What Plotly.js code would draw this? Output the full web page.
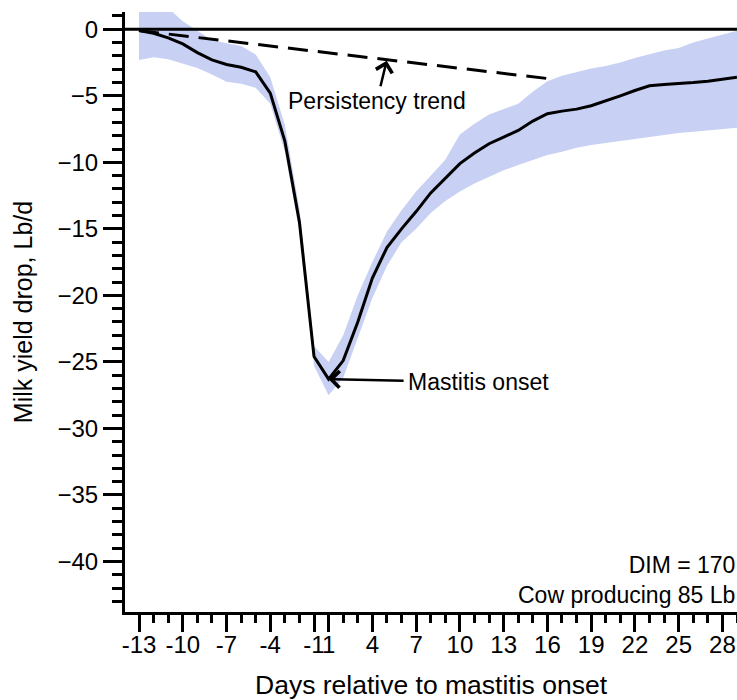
<!DOCTYPE html>
<html><head><meta charset="utf-8">
<script src="https://cdn.plot.ly/plotly-3.0.1.min.js"></script>
<style>html,body{margin:0;padding:0;background:#fff}#chart{width:737px;height:700px}</style>
</head><body><div id="chart"></div>
<script>
const days = [-13,-12,-11,-10,-9,-8,-7,-6,-5,-4,-3,-2,-1,1,2,3,4,5,6,7,8,9,10,11,12,13,14,15,16,17,18,19,20,21,22,23,24,25,26,27,28,29];
const meanDrop = [-0.1,-0.3,-0.65,-1.1,-1.75,-2.3,-2.65,-2.85,-3.2,-4.8,-8.4,-14.5,-24.6,-26.3,-24.9,-22.0,-18.7,-16.4,-15.0,-13.7,-12.3,-11.2,-10.1,-9.3,-8.6,-8.1,-7.6,-6.9,-6.35,-6.15,-6.0,-5.75,-5.4,-5.0,-4.6,-4.25,-4.15,-4.1,-4.0,-3.9,-3.75,-3.6];
const upperBand = [2.0,2.0,1.6,0.6,-0.1,-0.8,-1.05,-1.25,-1.9,-3.6,-7.2,-13.5,-23.8,-25.0,-23.0,-20.0,-17.5,-15.2,-13.6,-12.2,-11.0,-9.8,-7.9,-7.1,-6.4,-6.0,-5.6,-4.7,-3.9,-3.5,-3.2,-2.95,-2.75,-2.5,-2.15,-1.85,-1.6,-1.4,-1.0,-0.7,-0.4,-0.1];
const lowerBand = [-2.3,-2.1,-2.25,-2.55,-2.9,-3.4,-3.95,-4.1,-4.4,-5.6,-9.2,-15.2,-25.3,-27.5,-26.2,-23.2,-20.2,-17.8,-16.0,-15.0,-13.8,-12.9,-12.2,-11.6,-11.1,-10.6,-10.2,-9.8,-9.45,-9.2,-8.9,-8.7,-8.55,-8.35,-8.2,-8.1,-7.95,-7.8,-7.7,-7.6,-7.5,-7.4];
const trendDays = [-13, 16];
const trendValues = [-0.1, -3.7];
const tickDays = [-13,-10,-7,-4,-1,1,4,7,10,13,16,19,22,25,28];
const tickLabels = ["-13","-10","-7","-4","-1","1","4","7","10","13","16","19","22","25","28"];
const persistencyArrowDay = 5;
const onsetDay = 1;
const noteLines = ["DIM = 170", "Cow producing 85 Lb"];

const pos = d => days.indexOf(d);
const xs = days.map((d, i) => i);
const trendX = trendDays.map(pos);
const font = "Liberation Sans, Arial, Helvetica, sans-serif";

const pX = pos(persistencyArrowDay);
const pY = trendValues[0] + (trendValues[1] - trendValues[0]) * (pX - trendX[0]) / (trendX[1] - trendX[0]);
const oX = pos(onsetDay);
const oY = meanDrop[oX];

const traces = [
  {x: xs, y: lowerBand, type: 'scatter', mode: 'lines', line: {width: 0, color: 'rgba(0,0,0,0)'}, hoverinfo: 'skip', showlegend: false},
  {x: xs, y: upperBand, type: 'scatter', mode: 'lines', fill: 'tonexty', fillcolor: '#c8d0f3', line: {width: 0, color: 'rgba(0,0,0,0)'}, hoverinfo: 'skip', showlegend: false},
  {x: trendX, y: trendValues, type: 'scatter', mode: 'lines', line: {color: 'black', width: 3, dash: '20px,10px'}, showlegend: false},
  {x: xs, y: meanDrop, type: 'scatter', mode: 'lines', line: {color: 'black', width: 3}, showlegend: false}
];

const layout = {
  width: 737, height: 700,
  margin: {l: 125, r: 0, t: 12, b: 88},
  paper_bgcolor: 'white', plot_bgcolor: 'white',
  font: {family: font, color: 'black', size: 22},
  showlegend: false,
  xaxis: {
    range: [-0.96, 41.0], showgrid: false, zeroline: false,
    showline: true, linecolor: 'black', linewidth: 3,
    ticks: 'outside', ticklen: 17, tickwidth: 3, tickcolor: 'black',
    tickmode: 'array', tickvals: tickDays.map(pos), ticktext: tickLabels,
    tickangle: 0, tickfont: {size: 24, family: font}, ticklabelstandoff: -8,
    minor: {tickmode: 'array', tickvals: xs, ticks: 'outside', ticklen: 8, tickwidth: 3, tickcolor: 'black', showgrid: false},
    title: {text: 'Days relative to mastitis onset', font: {size: 26.5, family: font}, standoff: 20}
  },
  yaxis: {
    range: [-43.8, 1.3], showgrid: false, zeroline: false,
    showline: true, linecolor: 'black', linewidth: 3,
    ticks: 'outside', ticklen: 19, tickwidth: 3, tickcolor: 'black',
    tick0: 0, dtick: 5, tickfont: {size: 24, family: font},
    minor: {tick0: 0, dtick: 1, ticks: 'outside', ticklen: 10, tickwidth: 3, tickcolor: 'black', showgrid: false},
    title: {text: 'Milk yield drop, Lb/d', font: {size: 25, family: font}, standoff: 18}
  },
  shapes: [
    {type: 'line', xref: 'paper', x0: 0, x1: 1, yref: 'y', y0: 0, y1: 0, line: {color: 'black', width: 3}, layer: 'above'}
  ],
  annotations: [
    {x: pX, y: pY, xref: 'x', yref: 'y', text: 'Persistency trend', showarrow: true,
     ax: -10, ay: 41, arrowhead: 4, arrowsize: 1.3, arrowwidth: 2.5, arrowcolor: 'black', standoff: 1,
     font: {size: 23, family: font, color: 'black'}},
    {x: oX, y: oY, xref: 'x', yref: 'y', text: 'Mastitis onset', showarrow: true,
     ax: 150, ay: 3, arrowhead: 4, arrowsize: 1.3, arrowwidth: 2.5, arrowcolor: 'black', standoff: 0, borderpad: 4,
     font: {size: 23, family: font, color: 'black'}},
    {x: 1, y: 0, xref: 'paper', yref: 'paper', xanchor: 'right', yanchor: 'bottom', align: 'right',
     text: noteLines.join('<br>'), showarrow: false, xshift: 0, yshift: 2,
     font: {size: 23, family: font, color: 'black'}}
  ]
};

Plotly.newPlot('chart', traces, layout, {staticPlot: true, displayModeBar: false});
</script>
</body></html>
